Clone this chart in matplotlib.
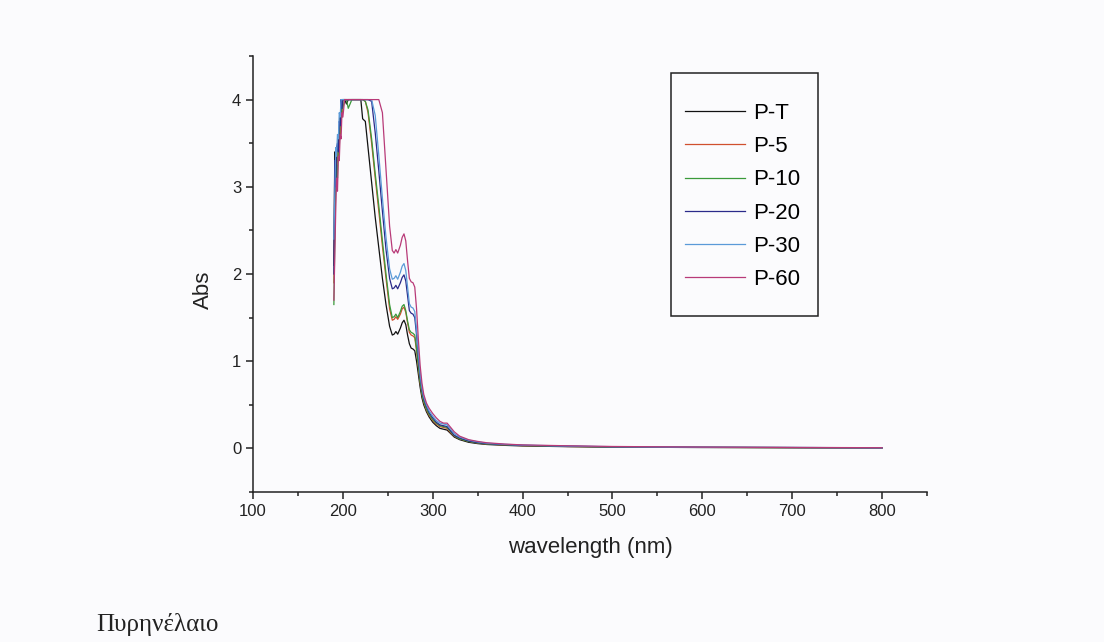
import matplotlib.pyplot as plt
from matplotlib.ticker import MultipleLocator
from matplotlib.patches import Rectangle

plt.rcParams['font.family'] = ['Liberation Sans', 'DejaVu Sans']

# wavelength grid (nm)
wl = [190, 191, 192, 193, 194, 195, 196, 197, 198, 199,
      200, 202, 204, 206, 210, 215, 220, 222, 225, 228,
      232, 236, 240, 244, 248, 252, 255, 257, 259, 261,
      264, 266, 268, 270, 272, 274, 276, 278, 280, 282,
      284, 286, 288, 290, 293, 296, 300, 304, 308, 312,
      316, 320, 324, 330, 340, 350, 360, 380, 400, 450,
      500, 600, 700, 800]

p_t = [2.1, 3.4, 3.15, 3.45, 3.3, 3.6, 3.5, 3.8, 3.7, 4.0,
       4.0, 4.0, 3.95, 4.0, 4.0, 4.0, 4.0, 3.78, 3.75, 3.45,
       3.05, 2.65, 2.3, 1.95, 1.65, 1.4, 1.3, 1.31, 1.34, 1.31,
       1.38, 1.44, 1.47, 1.42, 1.3, 1.2, 1.15, 1.14, 1.12, 1.0,
       0.85, 0.7, 0.58, 0.5, 0.42, 0.36, 0.3, 0.26, 0.23, 0.22,
       0.21, 0.17, 0.13, 0.1, 0.07, 0.055, 0.045, 0.035, 0.028, 0.02,
       0.015, 0.01, 0.008, 0.005]
p_5 = [1.9, 2.6, 3.3, 3.1, 3.4, 3.3, 3.65, 3.6, 3.9, 3.85,
       4.0, 4.0, 4.0, 4.0, 4.0, 4.0, 4.0, 4.0, 3.98, 3.85,
       3.5, 3.1, 2.72, 2.32, 1.95, 1.6, 1.47, 1.48, 1.51, 1.48,
       1.54, 1.6, 1.62, 1.56, 1.44, 1.33, 1.3, 1.29, 1.27, 1.12,
       0.93, 0.75, 0.62, 0.53, 0.44, 0.38, 0.32, 0.28, 0.25, 0.24,
       0.23, 0.18, 0.14, 0.11, 0.08, 0.062, 0.05, 0.04, 0.032, 0.022,
       0.017, 0.012, 0.009, 0.006]
p_10 = [1.65, 2.4, 3.0, 3.25, 3.1, 3.5, 3.45, 3.75, 3.7, 3.95,
        3.9, 4.0, 4.0, 3.9, 4.0, 4.0, 4.0, 4.0, 3.98, 3.88,
        3.55, 3.15, 2.78, 2.38, 2.0, 1.65, 1.5, 1.51, 1.54, 1.5,
        1.57, 1.63, 1.65, 1.58, 1.46, 1.36, 1.33, 1.32, 1.3, 1.14,
        0.95, 0.76, 0.63, 0.54, 0.45, 0.39, 0.33, 0.29, 0.26, 0.25,
        0.24, 0.19, 0.145, 0.11, 0.08, 0.063, 0.051, 0.041, 0.033, 0.023,
        0.017, 0.012, 0.009, 0.006]
p_20 = [2.0, 3.3, 3.0, 3.45, 3.5, 3.4, 3.75, 3.7, 4.0, 3.9,
        4.0, 4.0, 4.0, 4.0, 4.0, 4.0, 4.0, 4.0, 4.0, 4.0,
        3.98, 3.62, 3.18, 2.72, 2.28, 1.95, 1.83, 1.84, 1.87, 1.83,
        1.9, 1.96, 1.99, 1.92, 1.75, 1.58, 1.55, 1.54, 1.5, 1.3,
        1.05, 0.82, 0.67, 0.57, 0.48, 0.41, 0.35, 0.3, 0.27, 0.26,
        0.25, 0.2, 0.15, 0.12, 0.085, 0.067, 0.055, 0.043, 0.035, 0.025,
        0.018, 0.013, 0.01, 0.007]
p_30 = [2.4, 2.9, 3.45, 3.35, 3.6, 3.55, 3.85, 3.8, 4.0, 4.0,
        4.0, 4.0, 4.0, 4.0, 4.0, 4.0, 4.0, 4.0, 4.0, 4.0,
        4.0, 3.82, 3.36, 2.87, 2.42, 2.06, 1.94, 1.95, 1.98, 1.94,
        2.02, 2.09, 2.12, 2.04, 1.85, 1.66, 1.62, 1.61, 1.57, 1.36,
        1.1, 0.85, 0.69, 0.59, 0.5, 0.43, 0.37, 0.32, 0.29, 0.28,
        0.27, 0.22, 0.17, 0.13, 0.095, 0.075, 0.06, 0.047, 0.038, 0.027,
        0.02, 0.014, 0.011, 0.007]
p_60 = [1.7, 2.2, 2.7, 3.1, 2.95, 3.35, 3.3, 3.6, 3.55, 3.85,
        3.8, 4.0, 4.0, 4.0, 4.0, 4.0, 4.0, 4.0, 4.0, 4.0,
        4.0, 4.0, 4.0, 3.85, 3.2, 2.55, 2.27, 2.24, 2.28, 2.24,
        2.33, 2.42, 2.46, 2.38, 2.15, 1.95, 1.91, 1.9, 1.85, 1.6,
        1.25, 0.95, 0.75, 0.62, 0.52, 0.46, 0.4, 0.35, 0.31, 0.29,
        0.29, 0.24, 0.19, 0.14, 0.1, 0.08, 0.065, 0.05, 0.04, 0.03,
        0.022, 0.015, 0.011, 0.008]

labels = ['P-T', 'P-5', 'P-10', 'P-20', 'P-30', 'P-60']
series = [p_t, p_5, p_10, p_20, p_30, p_60]
colors = ['#111111', '#d0502e', '#3a9a3a', '#2a2a8a', '#5a9ad8', '#b83a78']

fig = plt.figure(figsize=(11.04, 6.42), dpi=100, facecolor='#fbfbfd')
ax = fig.add_axes([253/1104, 1 - 492/642, 674/1104, 436/642])
ax.set_facecolor('#fbfbfd')

for y, lab, c in zip(series, labels, colors):
    ax.plot(wl, y, color=c, lw=0.9, label=lab)

ax.set_xlim(100, 850)
ax.set_ylim(-0.5, 4.5)
ax.xaxis.set_major_locator(MultipleLocator(100))
ax.xaxis.set_minor_locator(MultipleLocator(50))
ax.yaxis.set_major_locator(MultipleLocator(1))
ax.yaxis.set_minor_locator(MultipleLocator(0.5))
ax.spines['top'].set_visible(False)
ax.spines['right'].set_visible(False)
for s in ['left', 'bottom']:
    ax.spines[s].set_linewidth(1.1)
    ax.spines[s].set_color('#222222')
ax.tick_params(which='major', direction='out', length=5, width=1.1,
               labelsize=12, color='#222222', labelcolor='#222222')
ax.tick_params(which='minor', direction='out', length=3.2, width=1.1,
               color='#222222')

ax.set_xlabel('wavelength (nm)', fontsize=16, color='#222222')
ax.set_ylabel('Abs', fontsize=16, color='#222222')
ax.xaxis.set_label_coords(0.5, -(548 - 492) / 436)
ax.yaxis.set_label_coords(-(253 - 203) / 674, (492 - 290) / 436)
ax.xaxis.label.set_va('center')
ax.yaxis.label.set_va('center')

# legend box (drawn separately so the padding matches)
fig.patches.append(Rectangle((671/1104, 1 - 316/642), 147/1104, 243/642,
                             transform=fig.transFigure, fill=False,
                             edgecolor='#222222', lw=1.1))
fig.legend(loc='upper left', bbox_to_anchor=(685/1104, 1 - 103/642),
           frameon=False, fontsize=16, handlelength=2.7, handletextpad=0.36,
           labelspacing=0.55, borderpad=0, borderaxespad=0)

fig.text(96/1104, 1 - 625/642, 'Πυρηνέλαιο', family='Liberation Serif',
         fontsize=18, color='#222222', va='center')

fig.savefig('out.png', dpi=100, facecolor=fig.get_facecolor())
